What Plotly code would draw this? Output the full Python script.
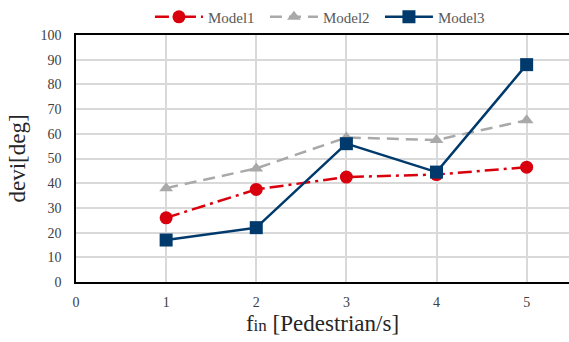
import plotly.graph_objects as go

x_vals = [1, 2, 3, 4, 5]
model1 = [26, 37.5, 42.5, 43.5, 46.5]
model2 = [38, 46, 58.5, 57.5, 65.5]
model3 = [17, 22, 56, 44.5, 88]
names = ["Model1", "Model2", "Model3"]

serif = "Liberation Serif"

fig = go.Figure()
fig.add_trace(go.Scatter(x=x_vals, y=model1, name=names[0], mode="lines+markers",
                         line=dict(color="#D9000D", width=2.5, dash="14px,5px,3px,5px"),
                         marker=dict(symbol="circle", size=13, color="#D9000D")))
fig.add_trace(go.Scatter(x=x_vals, y=model2, name=names[1], mode="lines+markers",
                         line=dict(color="#A9A9A9", width=2.5, dash="12px,7px"),
                         marker=dict(symbol="triangle-up", size=12, color="#A9A9A9")))
fig.add_trace(go.Scatter(x=x_vals, y=model3, name=names[2], mode="lines+markers",
                         line=dict(color="#003A6C", width=2.5),
                         marker=dict(symbol="square", size=13, color="#003A6C")))

fig.update_layout(
    width=569, height=342,
    margin=dict(l=76, r=0, t=35, b=60, autoexpand=False),
    paper_bgcolor="white", plot_bgcolor="white",
    font=dict(family=serif, color="#404040", size=13),
    showlegend=True,
    legend=dict(orientation="h", x=0.15, xanchor="left",
                yref="container", y=0.95, yanchor="middle",
                font=dict(size=15, color="#595959", family=serif),
                itemwidth=48, entrywidth=52, entrywidthmode="pixels",
                bgcolor="rgba(0,0,0,0)"),
    xaxis=dict(range=[0, 5.47], tickmode="array", tickvals=[0, 1, 2, 3, 4, 5],
               automargin=False,
               showgrid=True, gridcolor="#D9D9D9", gridwidth=1.5,
               showline=True, linecolor="black", linewidth=1.5, mirror=True,
               zeroline=False, ticks="outside", ticklen=6, tickcolor="rgba(0,0,0,0)",
               tickfont=dict(size=14, color="#404040", family=serif),
               title=dict(text="f<span style='font-size:17px'>in</span> [Pedestrian/s]",
                          font=dict(size=23, color="#262626", family=serif), standoff=6)),
    yaxis=dict(range=[0, 100], tickmode="array", tickvals=list(range(0, 101, 10)),
               automargin=False,
               showgrid=True, gridcolor="#D9D9D9", gridwidth=1.5,
               showline=True, linecolor="black", linewidth=1.5, mirror=False,
               zeroline=False, ticks="outside", ticklen=10, tickcolor="rgba(0,0,0,0)",
               tickfont=dict(size=14, color="#404040", family=serif),
               title=dict(text="devi[deg]", font=dict(size=23, color="#262626", family=serif),
                          standoff=8)),
)

fig.write_html("out.html", config={"displayModeBar": False},
               post_script="document.body.style.margin='0';document.body.style.overflow='hidden';")
